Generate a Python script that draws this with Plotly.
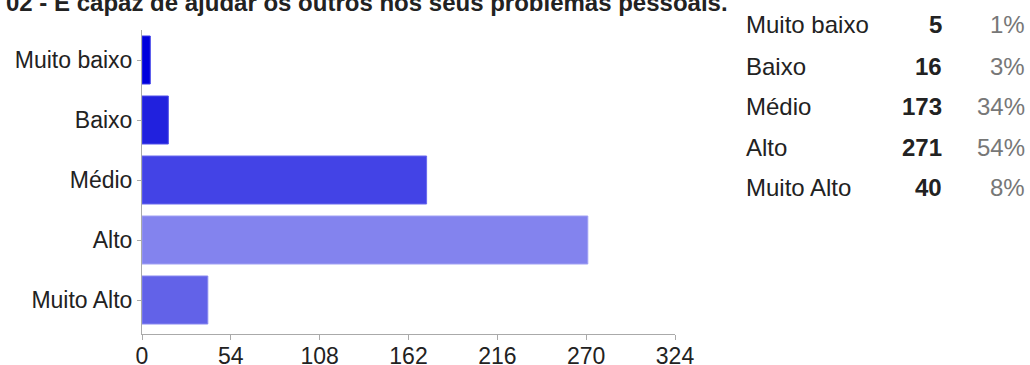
import plotly.graph_objects as go

categories = ["Muito baixo", "Baixo", "Médio", "Alto", "Muito Alto"]
counts = [5, 16, 173, 271, 40]
percents = ["1%", "3%", "34%", "54%", "8%"]
bar_colors = ["#0000dc", "#2121de", "#4343e6", "#8383ee", "#6262e8"]
line_colors = ["#3a3ae8", "#5050ea", "#6a6aee", "#a0a0f4", "#8888f0"]
x_ticks = [0, 54, 108, 162, 216, 270, 324]
title = "02 - É capaz de ajudar os outros nos seus problemas pessoais."

W, H = 1030, 365
L, R, T, B = 142, 355, 30, 31
PW, PH = W - L - R, H - T - B

def px(x):
    return (x - L) / PW

def py(y):
    return 1 - (y - T) / PH

fig = go.Figure()
fig.add_trace(go.Bar(
    y=categories, x=counts, orientation="h",
    marker=dict(color=bar_colors, line=dict(color=line_colors, width=1)),
    hoverinfo="skip",
))

font = "Liberation Sans, Arial, sans-serif"
ann = []
ann.append(dict(text="<b>" + title + "</b>", xref="paper", yref="paper",
                x=px(4), y=py(18), xanchor="left", yanchor="bottom",
                showarrow=False, font=dict(family=font, size=24, color="#222")))
row_y = [25, 66, 106, 147, 187]
for c, n, p, yy in zip(categories, counts, percents, row_y):
    ann.append(dict(text=c, xref="paper", yref="paper", x=px(744), y=py(yy),
                    xanchor="left", yanchor="middle", showarrow=False,
                    font=dict(family=font, size=24, color="#222")))
    ann.append(dict(text="<b>%d</b>" % n, xref="paper", yref="paper", x=px(944), y=py(yy),
                    xanchor="right", yanchor="middle", showarrow=False,
                    font=dict(family=font, size=24, color="#222")))
    ann.append(dict(text=p, xref="paper", yref="paper", x=px(1027), y=py(yy),
                    xanchor="right", yanchor="middle", showarrow=False,
                    font=dict(family=font, size=24, color="#777")))

fig.update_layout(
    width=W, height=H,
    margin=dict(l=L, r=R, t=T, b=B, pad=0, autoexpand=False),
    paper_bgcolor="white", plot_bgcolor="white",
    bargap=0.2, showlegend=False,
    annotations=ann,
    font=dict(family=font, size=23, color="#222"),
    xaxis=dict(range=[0, 324], tickvals=x_ticks, showgrid=False, zeroline=False,
               showline=True, linecolor="#aaa", linewidth=1, automargin=False,
               ticks="outside", ticklen=5, tickcolor="#aaa", ticklabelstandoff=-4,
               tickfont=dict(family=font, size=23, color="#222"), fixedrange=True),
    yaxis=dict(categoryorder="array", categoryarray=categories,
               range=[4.5 + 4 / 60, -0.5],
               showgrid=False, zeroline=False, showline=True, linecolor="#aaa", linewidth=1,
               automargin=False,
               ticks="outside", ticklen=4, tickcolor="#aaa",
               tickfont=dict(family=font, size=23, color="#222"), fixedrange=True),
)

fig.write_html("out.html", config={"displayModeBar": False},
               post_script="document.body.style.margin='0';document.body.style.overflow='hidden';")
